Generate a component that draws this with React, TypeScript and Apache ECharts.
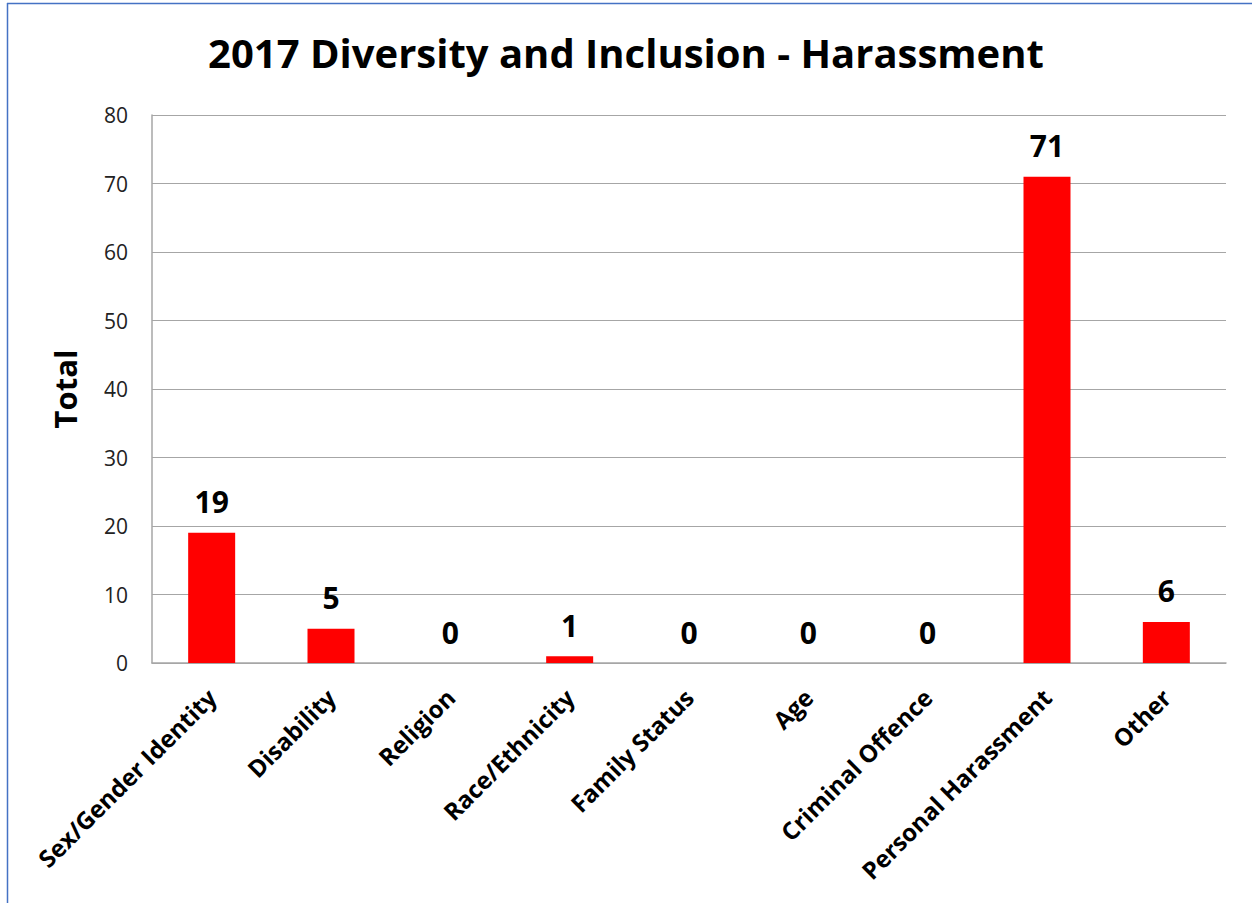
import React, { useEffect, useRef } from "react";
import * as echarts from "echarts";

const categories = [
  "Sex/Gender Identity",
  "Disability",
  "Religion",
  "Race/Ethnicity",
  "Family Status",
  "Age",
  "Criminal Offence",
  "Personal Harassment",
  "Other",
];
const totals = [19, 5, 0, 1, 0, 0, 0, 71, 6];
const titleText = "2017 Diversity and Inclusion - Harassment";
const yAxisName = "Total";

const FONT = "'Open Sans', 'Noto Sans', sans-serif";

export default function App() {
  const ref = useRef<HTMLDivElement>(null);
  useEffect(() => {
    if (!ref.current) return;
    const chart = echarts.init(ref.current, null, { renderer: "svg" });
    chart.setOption({
      animation: false,
      backgroundColor: "#ffffff",
      title: {
        text: titleText,
        left: "center",
        top: 27,
        textStyle: { fontFamily: FONT, fontWeight: "bold", fontSize: 40, color: "#000" },
      },
      graphic: [
        { type: "line", shape: { x1: 7, y1: 3.5, x2: 1252, y2: 3.5 }, style: { stroke: "#4472C4", lineWidth: 1.5 } },
        { type: "line", shape: { x1: 7.5, y1: 3, x2: 7.5, y2: 903 }, style: { stroke: "#4472C4", lineWidth: 1.5 } },
      ],
      grid: { left: 152, right: 26, top: 115, bottom: 240, containLabel: false },
      xAxis: {
        type: "category",
        data: categories,
        axisLine: { show: true, lineStyle: { color: "#A6A6A6", width: 1.5 } },
        axisTick: { show: false },
        axisLabel: {
          interval: 0,
          rotate: 45,
          margin: 30,
          fontFamily: FONT,
          fontWeight: "bold",
          fontSize: 24,
          color: "#000",
        },
      },
      yAxis: {
        type: "value",
        min: 0,
        max: 80,
        interval: 10,
        name: yAxisName,
        nameLocation: "middle",
        nameGap: 72,
        nameTextStyle: { fontFamily: FONT, fontWeight: "bold", fontSize: 31, color: "#000" },
        axisLine: { show: true, lineStyle: { color: "#A6A6A6", width: 1.5 } },
        axisTick: { show: false },
        splitLine: { lineStyle: { color: "#A6A6A6", width: 1.2 } },
        axisLabel: { margin: 24, fontFamily: FONT, fontSize: 21, color: "#222" },
      },
      series: [
        {
          type: "bar",
          data: totals,
          barWidth: 47,
          itemStyle: { color: "#FF0000" },
          label: {
            show: true,
            position: "top",
            distance: 16,
            fontFamily: FONT,
            fontWeight: "bold",
            fontSize: 30,
            color: "#000",
          },
        },
      ],
    });
    return () => chart.dispose();
  }, []);
  return (
    <div
      ref={ref}
      style={{ position: "fixed", left: 0, top: 0, width: 1252, height: 903 }}
    />
  );
}
